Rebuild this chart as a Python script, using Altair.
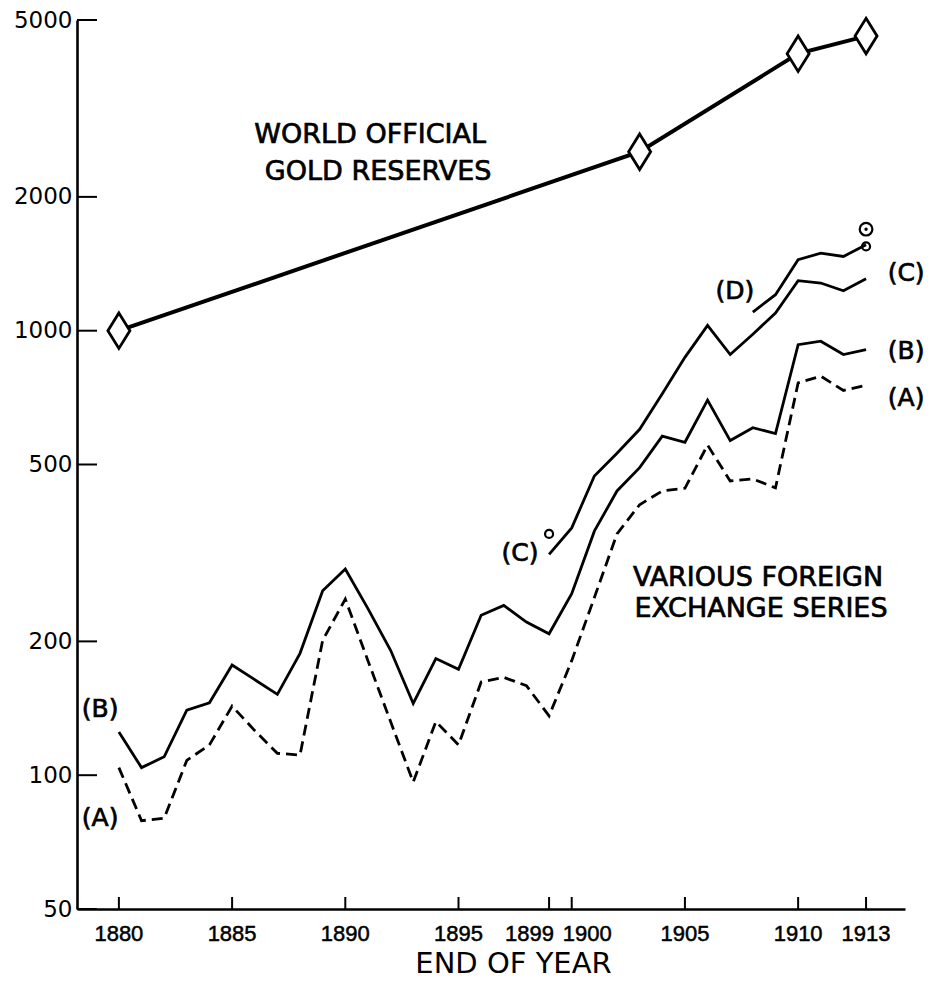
import altair as alt
import pandas as pd

# ---------------- data ----------------
years = list(range(1880, 1914))
series_a = [104, 79, 80, 108, 117, 143, 126, 112, 111, 201, 249, 181, 132, 96.5, 132, 117,
            162, 166, 159, 136, 181, 251, 349, 406, 436, 442, 553, 459, 464, 443, 763, 790, 734, 754]
series_b = [125, 104, 110, 140, 145.5, 177, 164, 152, 188, 260, 291, 237, 191, 145, 183, 173,
            229, 241, 221, 208, 256, 354, 436, 492, 579, 561, 698, 566, 605, 587, 930, 947, 884, 907]
years_c = list(range(1899, 1914))
series_c = [314, 360, 471, 530, 600, 721, 871, 1028, 884, 982, 1096, 1296, 1280, 1230, 1309]
years_d = list(range(1908, 1914))
series_d = [1101, 1205, 1444, 1494, 1469, 1560]

gold_years = [1880, 1903, 1910, 1913]
gold_values = [1000, 2527, 4200, 4600]

# single marked observations (open circles, dotted circle)
circle_years = [1899, 1913]
circle_values = [349, 1547]
dotcircle_years = [1913]
dotcircle_values = [1692]

x_ticks = [1880, 1885, 1890, 1895, 1899, 1900, 1905, 1910, 1913]
y_ticks = [50, 100, 200, 500, 1000, 2000, 5000]

# annotation texts and their anchors (in data units)
big_labels = ["WORLD OFFICIAL", "GOLD RESERVES", "VARIOUS FOREIGN", "EXCHANGE SERIES"]
big_label_years = [1891.1, 1891.45, 1908.23, 1908.36]
big_label_values = [2760, 2280, 278, 237]

series_labels = ["(B)", "(A)", "(C)", "(D)", "(C)", "(B)", "(A)"]
series_label_years = [1879.17, 1879.17, 1897.72, 1907.21, 1914.77, 1914.77, 1914.77]
series_label_values = [140.6, 80, 316, 1226, 1345, 899, 705]

# ---------------- tables ----------------
solid = pd.concat([
    pd.DataFrame({"year": years, "value": series_b, "series": "B"}),
    pd.DataFrame({"year": years_c, "value": series_c, "series": "C"}),
    pd.DataFrame({"year": years_d, "value": series_d, "series": "D"}),
])
dashed = pd.DataFrame({"year": years, "value": series_a, "series": "A"})
gold = pd.DataFrame({"year": gold_years, "value": gold_values})
circles = pd.DataFrame({"year": circle_years, "value": circle_values})
dotc = pd.DataFrame({"year": dotcircle_years, "value": dotcircle_values})
xt = pd.DataFrame({"year": x_ticks, "text": [str(t) for t in x_ticks]})
xt_center = xt[~xt["year"].isin([1899, 1900])]
xt_1899 = xt[xt["year"] == 1899]
xt_1900 = xt[xt["year"] == 1900]
yt = pd.DataFrame({"value": y_ticks})
big = pd.DataFrame({"year": big_label_years, "value": big_label_values, "text": big_labels})
small = pd.DataFrame({"year": series_label_years, "value": series_label_values, "text": series_labels})

# ---------------- scales / axes ----------------
W, H = 828, 889
FONT = "DejaVu Sans"
TICKFONT = "Liberation Sans"
xscale = alt.Scale(domain=[1878.15, 1914.72], nice=False, zero=False)
yscale = alt.Scale(type="log", domain=[50, 5000], nice=False)

xaxis = alt.Axis(values=x_ticks, ticks=False, grid=False, labels=False, domainColor="black",
                 domainWidth=2.6, title="END OF YEAR", titleFont=FONT, titleFontSize=29,
                 titleFontWeight="normal", titleColor="black", titleX=436, titleY=54,
                 titleAlign="center", titleBaseline="middle", titleAngle=0)
yaxis = alt.Axis(values=y_ticks, format="d", ticks=False, grid=False, domainColor="black",
                 domainWidth=2.6, labelFont=FONT, labelFontSize=23, labelPadding=5,
                 labelColor="black", labelFlush=False, labelOverlap=False, title=None)

X = alt.X("year:Q", scale=xscale, axis=xaxis)
Y = alt.Y("value:Q", scale=yscale, axis=yaxis)

solid_lines = alt.Chart(solid).mark_line(color="black", strokeWidth=2.8).encode(
    x=X, y=Y, detail="series:N")
dashed_line = alt.Chart(dashed).mark_line(color="black", strokeWidth=2.8,
                                          strokeDash=[11, 6]).encode(x=X, y=Y)
gold_line = alt.Chart(gold).mark_line(color="black", strokeWidth=4).encode(x=X, y=Y)
gold_pts = alt.Chart(gold).mark_point(shape="M0,-1L0.62,0L0,1L-0.62,0Z", size=1260,
                                      filled=True, fill="white", stroke="black",
                                      strokeWidth=2.8, opacity=1).encode(x=X, y=Y)
circ = alt.Chart(circles).mark_point(shape="circle", size=64, filled=False, color="black",
                                     strokeWidth=2.2, dx=3, opacity=1).encode(x=X, y=Y)
dcirc = alt.Chart(dotc).mark_point(shape="circle", size=160, filled=False, color="black",
                                   strokeWidth=2.2, dx=3, opacity=1).encode(x=X, y=Y)
ddot = alt.Chart(dotc).mark_point(shape="circle", size=12, filled=True, color="black",
                                  dx=3, opacity=1).encode(x=X, y=Y)

xticks = alt.Chart(xt).mark_rule(color="black", strokeWidth=2).encode(
    x=X, y=alt.value(H), y2=alt.value(H - 12))
yticks = alt.Chart(yt).mark_rule(color="black", strokeWidth=2).encode(
    y=Y, x=alt.value(0), x2=alt.value(20))

tick_style = dict(font=TICKFONT, fontSize=22, color="black", baseline="middle",
                  stroke="black", strokeWidth=0.5)
xlab_c = alt.Chart(xt_center).mark_text(align="center", **tick_style).encode(
    x=X, y=alt.value(H + 25), text="text:N")
xlab_1899 = alt.Chart(xt_1899).mark_text(align="right", dx=5, **tick_style).encode(
    x=X, y=alt.value(H + 25), text="text:N")
xlab_1900 = alt.Chart(xt_1900).mark_text(align="left", dx=-9, **tick_style).encode(
    x=X, y=alt.value(H + 25), text="text:N")

big_text = alt.Chart(big).mark_text(font=FONT, fontSize=27, color="black", align="center",
                                    baseline="middle", stroke="black",
                                    strokeWidth=0.7).encode(x=X, y=Y, text="text:N")
small_text = alt.Chart(small).mark_text(font=FONT, fontSize=25, color="black", align="center",
                                        baseline="middle", stroke="black",
                                        strokeWidth=0.7).encode(x=X, y=Y, text="text:N")

chart = alt.layer(
    solid_lines, dashed_line, gold_line, gold_pts, circ, dcirc, ddot,
    xticks, yticks, xlab_c, xlab_1899, xlab_1900, big_text, small_text
).properties(
    width=W, height=H,
    autosize=alt.AutoSizeParams(type="none"),
    padding={"left": 69, "top": 12, "right": 25, "bottom": 69},
    background="white",
).configure_view(stroke="transparent")

chart.save("out.html", embed_options={"renderer": "svg", "actions": False})
